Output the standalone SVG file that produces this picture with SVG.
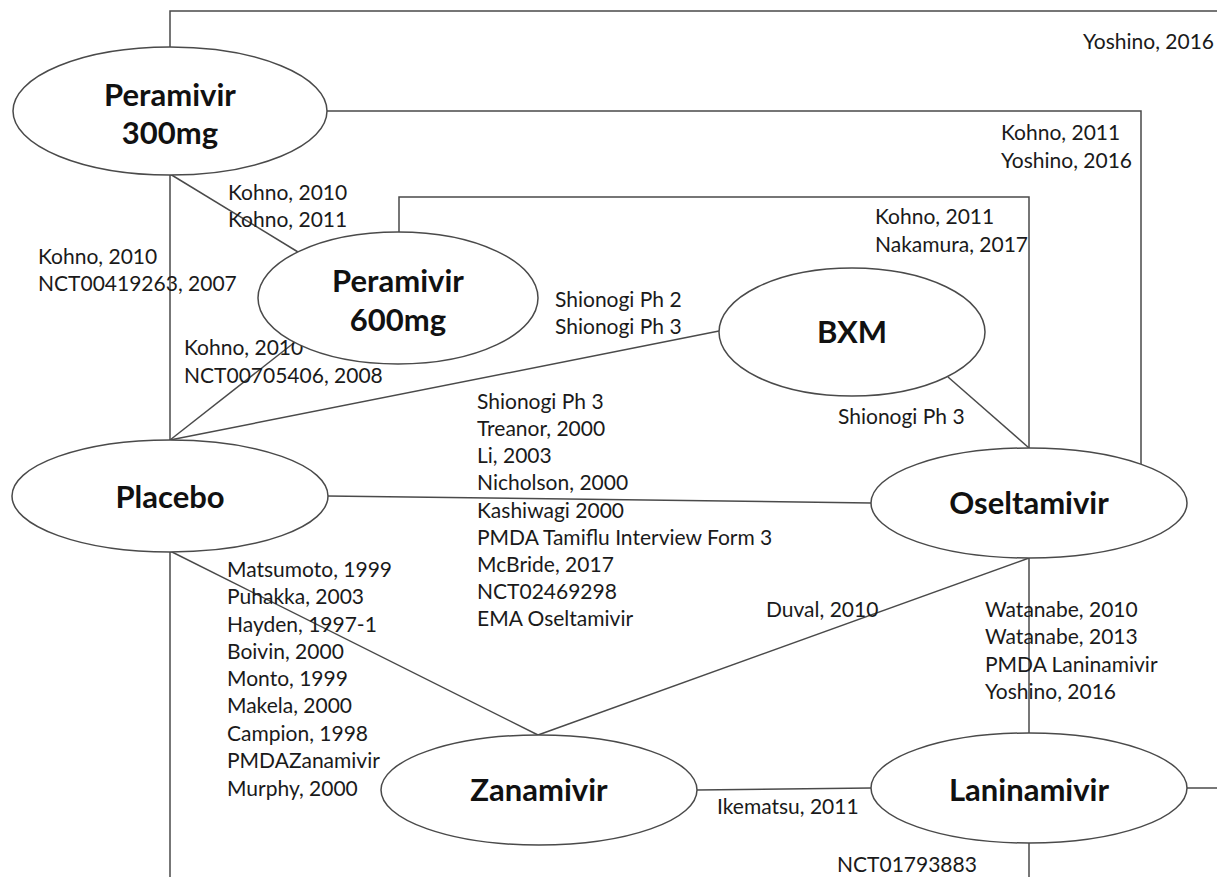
<svg xmlns="http://www.w3.org/2000/svg" width="1217" height="877" viewBox="0 0 1217 877">
<style>
.bg{fill:#ffffff}
.node ellipse{fill:#ffffff;stroke:#4a4a4a;stroke-width:1.5}
.node text{font-family:Lato,"Open Sans","Liberation Sans",sans-serif;font-weight:bold;font-size:31px;fill:#111;text-anchor:middle}
#connectors path,#connectors line{fill:none;stroke:#4a4a4a;stroke-width:1.5}
.lbl{font-family:Lato,"Open Sans","Liberation Sans",sans-serif;font-size:21px;fill:#1a1a1a}
</style>
<rect class="bg" x="0" y="0" width="1217" height="877"/>
<g id="connectors">
<path d="M170,47 V11 H1217"/>
<path d="M327,111 H1141 V464"/>
<path d="M399,233 V197 H1029 V448"/>
<line x1="170" y1="174" x2="170" y2="440"/>
<line x1="170" y1="174" x2="298" y2="252"/>
<line x1="170" y1="440" x2="295" y2="342"/>
<line x1="170" y1="440" x2="719" y2="331"/>
<line x1="327" y1="496" x2="871" y2="503"/>
<line x1="948" y1="377" x2="1029" y2="448"/>
<line x1="170" y1="551" x2="170" y2="877"/>
<line x1="170" y1="551" x2="538" y2="735"/>
<line x1="538" y1="735" x2="1029" y2="558"/>
<line x1="1029" y1="558" x2="1029" y2="733"/>
<line x1="697" y1="790" x2="871" y2="788"/>
<line x1="1187" y1="788" x2="1217" y2="788"/>
<line x1="1029" y1="843" x2="1029" y2="877"/>
<g id="edge-labels">
<text class="lbl" x="1083" y="49">Yoshino, 2016</text>
<text class="lbl" x="1001" y="140">Kohno, 2011</text>
<text class="lbl" x="1001" y="168">Yoshino, 2016</text>
<text class="lbl" x="875" y="224">Kohno, 2011</text>
<text class="lbl" x="875" y="252">Nakamura, 2017</text>
<text class="lbl" x="228" y="200">Kohno, 2010</text>
<text class="lbl" x="228" y="227">Kohno, 2011</text>
<text class="lbl" x="38" y="264">Kohno, 2010</text>
<text class="lbl" x="38" y="291">NCT00419263, 2007</text>
<text class="lbl" x="555" y="307">Shionogi Ph 2</text>
<text class="lbl" x="555" y="334">Shionogi Ph 3</text>
<text class="lbl" x="184" y="355">Kohno, 2010</text>
<text class="lbl" x="184" y="383">NCT00705406, 2008</text>
<text class="lbl" x="838" y="424">Shionogi Ph 3</text>
<text class="lbl" x="477" y="409">Shionogi Ph 3</text>
<text class="lbl" x="477" y="436">Treanor, 2000</text>
<text class="lbl" x="477" y="463">Li, 2003</text>
<text class="lbl" x="477" y="490">Nicholson, 2000</text>
<text class="lbl" x="477" y="518">Kashiwagi 2000</text>
<text class="lbl" x="477" y="545">PMDA Tamiflu Interview Form 3</text>
<text class="lbl" x="477" y="572">McBride, 2017</text>
<text class="lbl" x="477" y="599">NCT02469298</text>
<text class="lbl" x="477" y="626">EMA Oseltamivir</text>
<text class="lbl" x="227" y="577">Matsumoto, 1999</text>
<text class="lbl" x="227" y="604">Puhakka, 2003</text>
<text class="lbl" x="227" y="632">Hayden, 1997-1</text>
<text class="lbl" x="227" y="659">Boivin, 2000</text>
<text class="lbl" x="227" y="686">Monto, 1999</text>
<text class="lbl" x="227" y="713">Makela, 2000</text>
<text class="lbl" x="227" y="741">Campion, 1998</text>
<text class="lbl" x="227" y="768">PMDAZanamivir</text>
<text class="lbl" x="227" y="796">Murphy, 2000</text>
<text class="lbl" x="766" y="617">Duval, 2010</text>
<text class="lbl" x="985" y="617">Watanabe, 2010</text>
<text class="lbl" x="985" y="644">Watanabe, 2013</text>
<text class="lbl" x="985" y="672">PMDA Laninamivir</text>
<text class="lbl" x="985" y="699">Yoshino, 2016</text>
<text class="lbl" x="717" y="814">Ikematsu, 2011</text>
<text class="lbl" x="837" y="872">NCT01793883</text>
</g>
</g>
<g id="node-peramivir300" class="node">
<ellipse cx="170" cy="111" rx="157" ry="64"/>
<text x="170" y="106">Peramivir</text>
<text x="170" y="144">300mg</text>
</g>
<g id="node-peramivir600" class="node">
<ellipse cx="398" cy="298" rx="140" ry="66"/>
<text x="398" y="292">Peramivir</text>
<text x="398" y="331">600mg</text>
</g>
<g id="node-bxm" class="node">
<ellipse cx="852" cy="332" rx="133" ry="64"/>
<text x="852" y="343">BXM</text>
</g>
<g id="node-placebo" class="node">
<ellipse cx="170" cy="496" rx="158" ry="56"/>
<text x="170" y="508">Placebo</text>
</g>
<g id="node-oseltamivir" class="node">
<ellipse cx="1029" cy="503" rx="158" ry="55"/>
<text x="1029" y="514">Oseltamivir</text>
</g>
<g id="node-zanamivir" class="node">
<ellipse cx="539" cy="790" rx="158" ry="55"/>
<text x="539" y="801">Zanamivir</text>
</g>
<g id="node-laninamivir" class="node">
<ellipse cx="1029" cy="788" rx="158" ry="55"/>
<text x="1029" y="801">Laninamivir</text>
</g>
</svg>
